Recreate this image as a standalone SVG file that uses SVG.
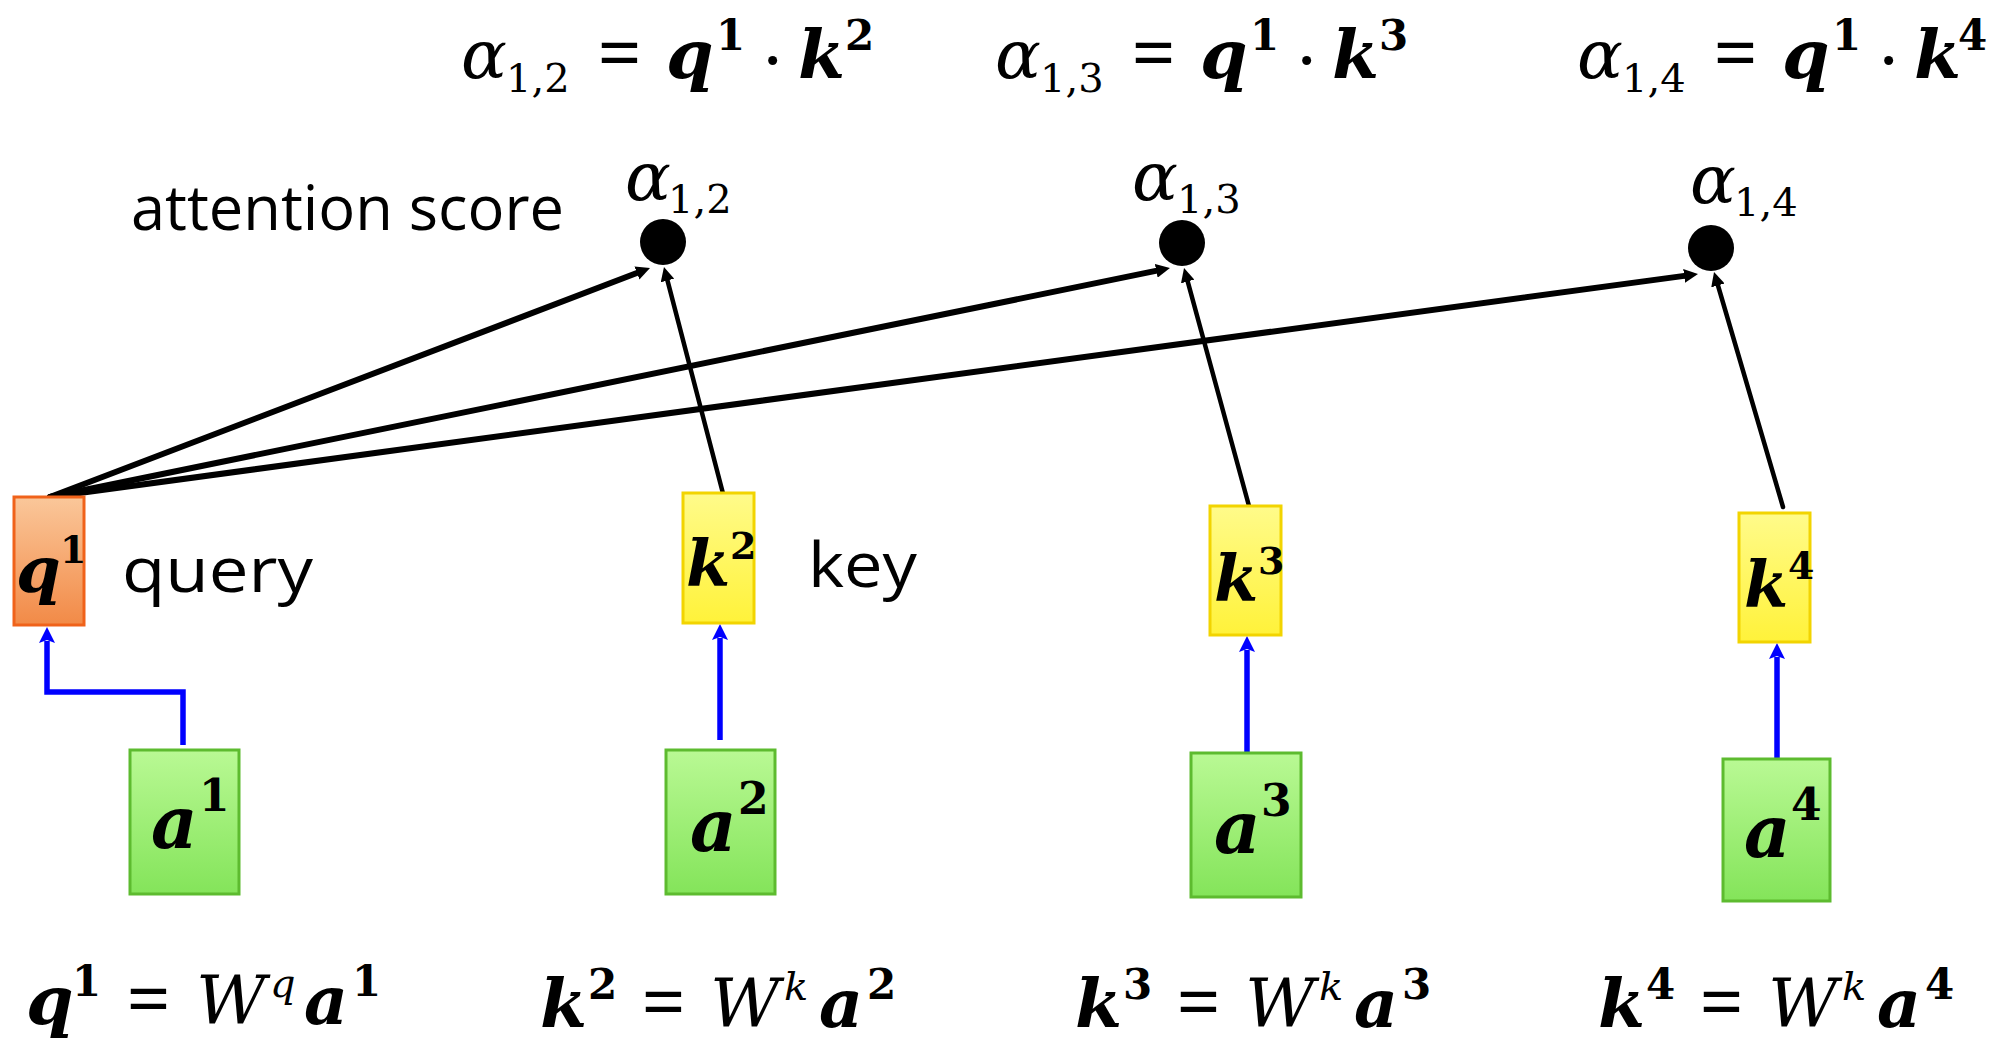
<svg xmlns="http://www.w3.org/2000/svg" width="2000" height="1052" viewBox="0 0 2000 1052">
<defs>
<style>
.m{font-family:"DejaVu Serif",serif;font-style:italic;font-size:68px;fill:#000}
.b{font-weight:bold}
.up{font-style:normal}
.op{font-family:"Liberation Serif",serif;font-style:normal;font-weight:bold;font-size:76px}
.dot{font-family:"Liberation Serif",serif;font-style:normal;font-weight:normal;font-size:76px}
.sub{font-size:40px}
.sup{font-size:42px}
.bx{font-size:64px}
.bxs{font-size:38px}
.ab{font-size:72px}
.abs{font-size:44px}
.lbl{font-family:"Open Sans","Liberation Sans",sans-serif;font-size:62px;fill:#000}
.blk{stroke:#000;fill:none;stroke-linecap:round}
.blue{stroke:#0000ff;stroke-width:5.5;fill:none}
.green{fill:url(#gGreen);stroke:#5dbb2f;stroke-width:3}
.yellow{fill:url(#gYellow);stroke:#f2d400;stroke-width:3}
.orange{fill:url(#gOrange);stroke:#f0621a;stroke-width:3}
</style>
<linearGradient id="gGreen" x1="0" y1="0" x2="0" y2="1"><stop offset="0" stop-color="#b9f994"/><stop offset="1" stop-color="#84e45a"/></linearGradient>
<linearGradient id="gYellow" x1="0" y1="0" x2="0" y2="1"><stop offset="0" stop-color="#fffb8a"/><stop offset="1" stop-color="#fff23a"/></linearGradient>
<linearGradient id="gOrange" x1="0" y1="0" x2="0" y2="1"><stop offset="0" stop-color="#fac79a"/><stop offset="1" stop-color="#f28a47"/></linearGradient>
<marker id="ah" markerUnits="userSpaceOnUse" markerWidth="16" markerHeight="14" refX="2" refY="7" orient="auto"><path d="M0,0 L14,7 L0,14 z" fill="#000"/></marker>
<marker id="ahb" markerUnits="userSpaceOnUse" markerWidth="18" markerHeight="16" refX="2" refY="8" orient="auto"><path d="M0,0 L16,8 L0,16 L3,8 z" fill="#0000ff"/></marker>
</defs>
<rect width="2000" height="1052" fill="#fff"/>

<g id="formulas-top">
<text class="m" y="78"><tspan x="461">α</tspan><tspan class="up sub" x="506" y="92">1,2</tspan><tspan class="op" x="598" y="78">=</tspan><tspan class="b" x="666" y="78">q</tspan><tspan class="b up sup" x="716" y="50">1</tspan><tspan class="dot" x="760" y="86">·</tspan><tspan class="b" x="798" y="78">k</tspan><tspan class="b up sup" x="845" y="50">2</tspan></text>
<text class="m" y="78"><tspan x="995">α</tspan><tspan class="up sub" x="1040" y="92">1,3</tspan><tspan class="op" x="1132" y="78">=</tspan><tspan class="b" x="1200" y="78">q</tspan><tspan class="b up sup" x="1250" y="50">1</tspan><tspan class="dot" x="1294" y="86">·</tspan><tspan class="b" x="1332" y="78">k</tspan><tspan class="b up sup" x="1379" y="50">3</tspan></text>
<text class="m" y="78"><tspan x="1577">α</tspan><tspan class="up sub" x="1622" y="92">1,4</tspan><tspan class="op" x="1714" y="78">=</tspan><tspan class="b" x="1782" y="78">q</tspan><tspan class="b up sup" x="1832" y="50">1</tspan><tspan class="dot" x="1876" y="86">·</tspan><tspan class="b" x="1914" y="78">k</tspan><tspan class="b up sup" x="1958" y="50">4</tspan></text>
</g>

<text id="label-attention" class="lbl" x="131" y="230" textLength="433" lengthAdjust="spacingAndGlyphs">attention score</text>

<g id="connectors">
<line class="blk" stroke-width="6" x1="50" y1="497" x2="638.8" y2="272.3" marker-end="url(#ah)"/>
<line class="blk" stroke-width="6" x1="50" y1="497" x2="1158.2" y2="270.4" marker-end="url(#ah)"/>
<line class="blk" stroke-width="6" x1="50" y1="497" x2="1686.1" y2="275.6" marker-end="url(#ah)"/>
<line class="blk" stroke-width="4.5" x1="726" y1="505" x2="667" y2="278.6" marker-end="url(#ah)"/>
<line class="blk" stroke-width="4.5" x1="1249" y1="506" x2="1187.2" y2="279.6" marker-end="url(#ah)"/>
<line class="blk" stroke-width="4.5" x1="1783" y1="507" x2="1717.4" y2="283.5" marker-end="url(#ah)"/>
<path class="blue" d="M183,745 V692 H47 V641" marker-end="url(#ahb)"/>
<path class="blue" d="M720,740 V638" marker-end="url(#ahb)"/>
<path class="blue" d="M1247,752 V650" marker-end="url(#ahb)"/>
<path class="blue" d="M1777,758 V657" marker-end="url(#ahb)"/>
</g>

<g id="score-12"><circle cx="663" cy="242" r="23" fill="#000"/><text class="m" y="200" font-size="62"><tspan x="625">α</tspan><tspan class="up sub" x="668" y="213">1,2</tspan></text></g>
<g id="score-13"><circle cx="1182" cy="243" r="23" fill="#000"/><text class="m" y="200" font-size="62"><tspan x="1132">α</tspan><tspan class="up sub" x="1177" y="213">1,3</tspan></text></g>
<g id="score-14"><circle cx="1711" cy="248" r="23" fill="#000"/><text class="m" y="203" font-size="62"><tspan x="1690">α</tspan><tspan class="up sub" x="1734" y="216">1,4</tspan></text></g>

<g id="node-q1"><rect class="orange" x="14" y="497" width="70" height="128"/><text class="m b bx" y="592"><tspan x="16">q</tspan><tspan class="up bxs" x="60" y="563">1</tspan></text></g>
<text id="label-query" class="lbl" x="122" y="592" textLength="191" lengthAdjust="spacingAndGlyphs">query</text>

<g id="node-k2"><rect class="yellow" x="683" y="493" width="71" height="130"/><text class="m b bx" y="585"><tspan x="686">k</tspan><tspan class="up bxs" x="730" y="559">2</tspan></text></g>
<text id="label-key" class="lbl" x="808" y="587" textLength="109" lengthAdjust="spacingAndGlyphs">key</text>
<g id="node-k3"><rect class="yellow" x="1210" y="506" width="71" height="129"/><text class="m b bx" y="600"><tspan x="1214">k</tspan><tspan class="up bxs" x="1258" y="574">3</tspan></text></g>
<g id="node-k4"><rect class="yellow" x="1739" y="513" width="71" height="129"/><text class="m b bx" y="606"><tspan x="1744">k</tspan><tspan class="up bxs" x="1788" y="579">4</tspan></text></g>

<g id="node-a1"><rect class="green" x="130" y="750" width="109" height="144"/><text class="m b ab" y="848"><tspan x="151">a</tspan><tspan class="up abs" x="199" y="811">1</tspan></text></g>
<g id="node-a2"><rect class="green" x="666" y="750" width="109" height="144"/><text class="m b ab" y="851"><tspan x="690">a</tspan><tspan class="up abs" x="738" y="814">2</tspan></text></g>
<g id="node-a3"><rect class="green" x="1191" y="753" width="110" height="144"/><text class="m b ab" y="853"><tspan x="1214">a</tspan><tspan class="up abs" x="1261" y="816">3</tspan></text></g>
<g id="node-a4"><rect class="green" x="1723" y="759" width="107" height="142"/><text class="m b ab" y="857"><tspan x="1744">a</tspan><tspan class="up abs" x="1791" y="820">4</tspan></text></g>

<g id="formulas-bottom">
<text class="m" y="1024"><tspan class="b" x="26">q</tspan><tspan class="b up sup" x="72" y="996">1</tspan><tspan class="op" x="127" y="1024">=</tspan><tspan x="196" y="1024">W</tspan><tspan x="270" y="997" font-size="40">q</tspan><tspan class="b" x="304" y="1024">a</tspan><tspan class="b up sup" x="352" y="996">1</tspan></text>
<text class="m" y="1027"><tspan class="b" x="540">k</tspan><tspan class="b up sup" x="588" y="999">2</tspan><tspan class="op" x="642" y="1027">=</tspan><tspan x="710" y="1027">W</tspan><tspan x="784" y="1000" font-size="40">k</tspan><tspan class="b" x="819" y="1027">a</tspan><tspan class="b up sup" x="867" y="999">2</tspan></text>
<text class="m" y="1027"><tspan class="b" x="1075">k</tspan><tspan class="b up sup" x="1123" y="999">3</tspan><tspan class="op" x="1177" y="1027">=</tspan><tspan x="1245" y="1027">W</tspan><tspan x="1319" y="1000" font-size="40">k</tspan><tspan class="b" x="1354" y="1027">a</tspan><tspan class="b up sup" x="1402" y="999">3</tspan></text>
<text class="m" y="1027"><tspan class="b" x="1598">k</tspan><tspan class="b up sup" x="1646" y="999">4</tspan><tspan class="op" x="1700" y="1027">=</tspan><tspan x="1768" y="1027">W</tspan><tspan x="1842" y="1000" font-size="40">k</tspan><tspan class="b" x="1877" y="1027">a</tspan><tspan class="b up sup" x="1925" y="999">4</tspan></text>
</g>
</svg>
